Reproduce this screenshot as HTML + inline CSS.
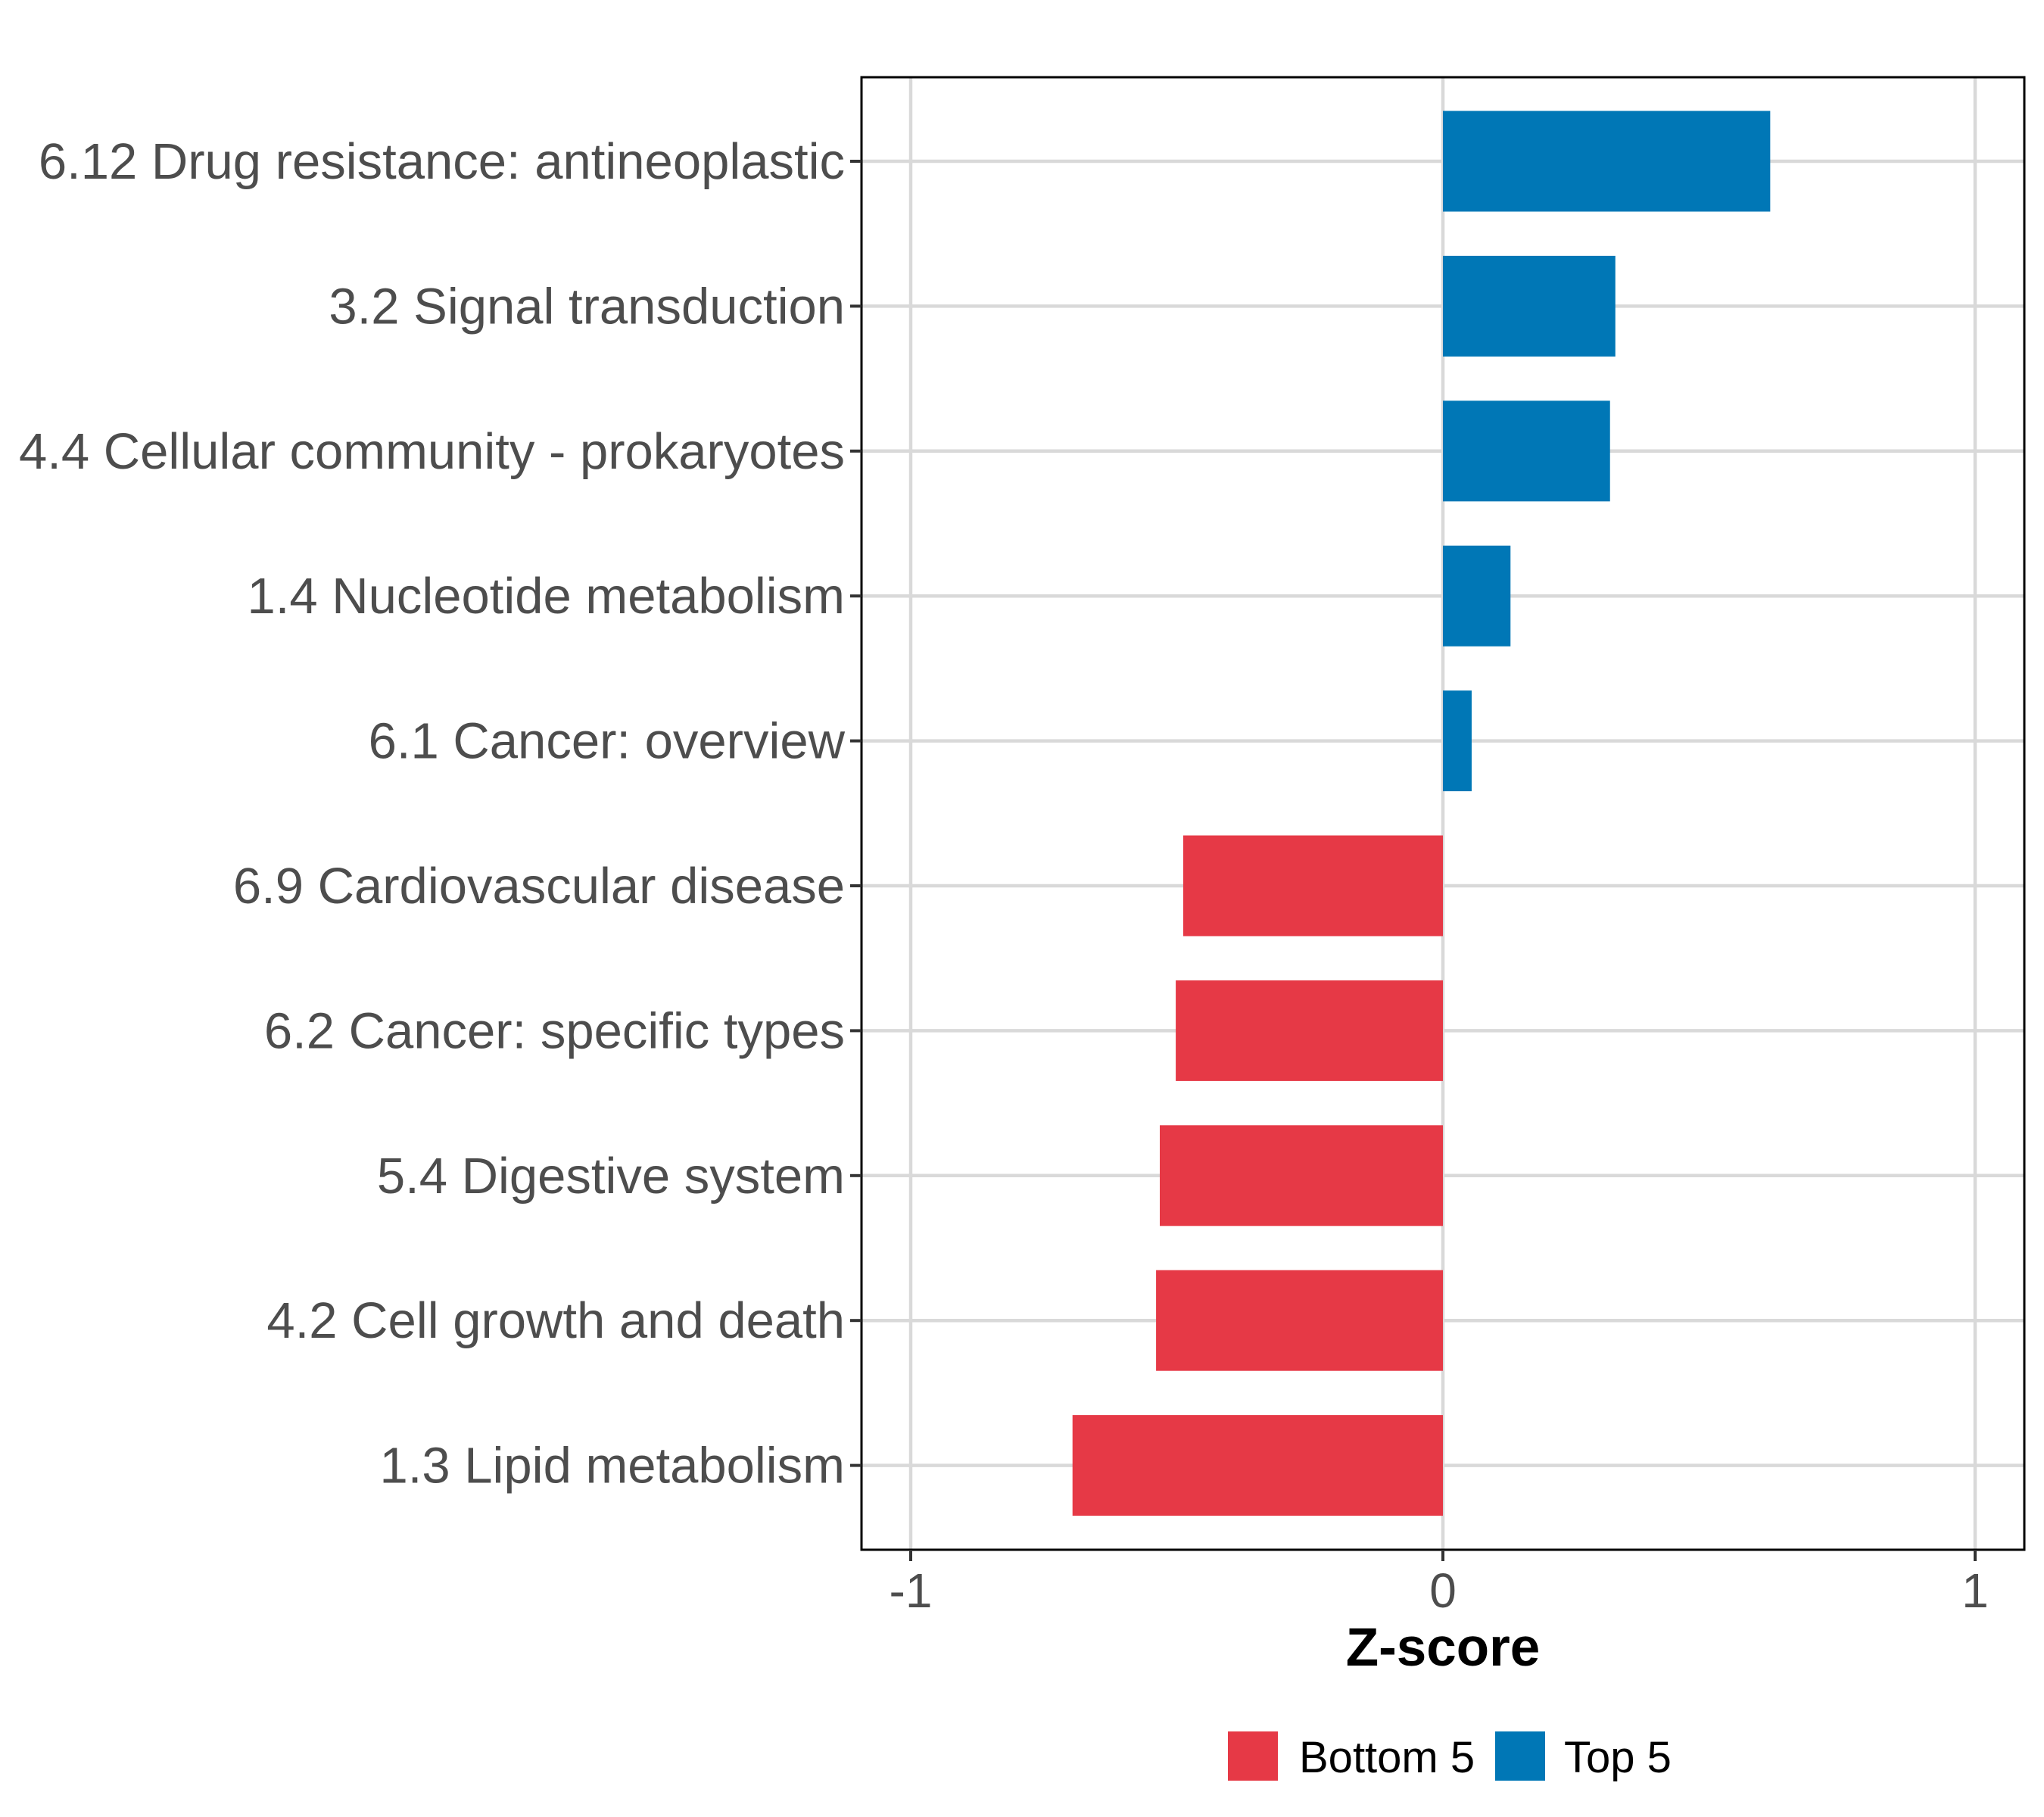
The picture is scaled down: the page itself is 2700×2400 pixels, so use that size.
<!DOCTYPE html>
<html><head><meta charset="utf-8"><style>
html,body{margin:0;padding:0;background:#fff;}
svg{display:block;font-family:"Liberation Sans",Arial,sans-serif;}
</style></head><body>
<svg id="chart" width="2700" height="2400" viewBox="0 0 2700 2400" xmlns="http://www.w3.org/2000/svg">
<rect width="2700" height="2400" fill="#fff"/>
<g id="grid"></g>
<g id="bars"></g>
<rect x="1138" y="102" width="1536" height="1945" fill="none" stroke="#000" stroke-width="3"/>
<g id="yaxis"></g>
<g id="xaxis"></g>
<text x="1906" y="2200" font-size="71" font-weight="bold" text-anchor="middle" fill="#000">Z-score</text>
<g>
<rect x="1622" y="2287" width="66" height="65" fill="#E63946"/>
<text x="1716" y="2341" font-size="58" fill="#000">Bottom 5</text>
<rect x="1975" y="2287" width="66" height="65" fill="#0077B6"/>
<text x="2066" y="2341" font-size="58" fill="#000">Top 5</text>
</g>
</svg>
<script>
const categories = ["6.12 Drug resistance: antineoplastic","3.2 Signal transduction","4.4 Cellular community - prokaryotes","1.4 Nucleotide metabolism","6.1 Cancer: overview","6.9 Cardiovascular disease","6.2 Cancer: specific types","5.4 Digestive system","4.2 Cell growth and death","1.3 Lipid metabolism"];
const values = [0.615,0.324,0.314,0.127,0.054,-0.488,-0.502,-0.532,-0.539,-0.696];
const groups = ["Top 5","Top 5","Top 5","Top 5","Top 5","Bottom 5","Bottom 5","Bottom 5","Bottom 5","Bottom 5"];
const xTicks = [-1,0,1];
const xTickLabels = ["-1","0","1"];

const NS="http://www.w3.org/2000/svg";
const L=1138,R=2674,T=102,B=2047;
function xs(v){return 1906+v*703;}
function ys(i){return T+111+i*191.4;}
const barH=133;
const colors={"Top 5":"#0077B6","Bottom 5":"#E63946"};
function mk(tag,attrs,parent){const e=document.createElementNS(NS,tag);for(const k in attrs)e.setAttribute(k,attrs[k]);parent.appendChild(e);return e;}
const grid=document.getElementById('grid'),bars=document.getElementById('bars'),ya=document.getElementById('yaxis'),xa=document.getElementById('xaxis');
xTicks.forEach((t,i)=>{
  const g=mk('line',{x1:xs(t),x2:xs(t),y1:T,y2:B,stroke:'#D9D9D9','stroke-width':4.5},grid);
  
  
  const tk=mk('line',{x1:xs(t),x2:xs(t),y1:B,y2:B+15,stroke:'#333','stroke-width':4},xa);
  
  
  const tl=mk('text',{x:xs(t),y:B+76,'font-size':64,'text-anchor':'middle',fill:'#4D4D4D'},xa);
  tl.textContent=xTickLabels[i];
  
  
});
categories.forEach((c,i)=>{
  const y=ys(i);
  const g=mk('line',{x1:L,x2:R,y1:y,y2:y,stroke:'#D9D9D9','stroke-width':4.5},grid);
  
  
  const v=values[i];
  const x0=Math.min(xs(0),xs(v)),w=Math.abs(xs(v)-xs(0));
  const b=mk('rect',{x:x0,y:y-barH/2,width:w,height:barH,fill:colors[groups[i]]},bars);
  
  
  const tk=mk('line',{x1:L-15,x2:L,y1:y,y2:y,stroke:'#333','stroke-width':4},ya);
  
  
  const tl=mk('text',{x:L-22,y:y+23,'font-size':67,'text-anchor':'end',fill:'#4D4D4D'},ya);
  tl.textContent=c;
  
  
});
</script>
</body></html>
